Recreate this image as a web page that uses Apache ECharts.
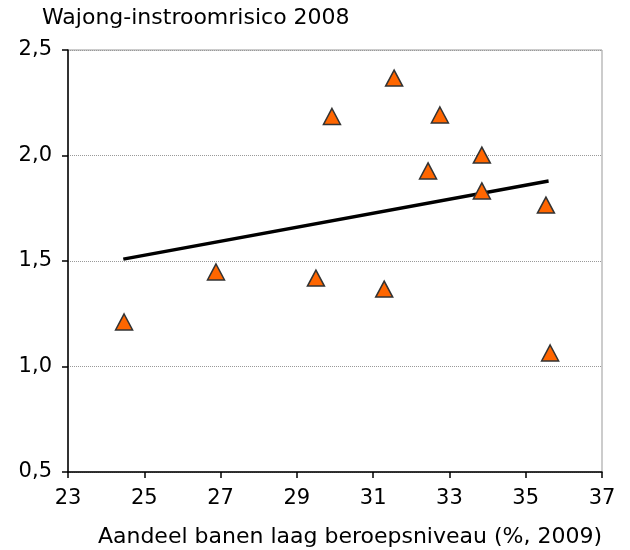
<!DOCTYPE html>
<html>
<head>
<meta charset="utf-8">
<script src="https://cdn.jsdelivr.net/npm/echarts@6/dist/echarts.min.js"></script>
<style>html,body{margin:0;padding:0;background:#fff}#c{width:630px;height:550px}</style>
</head>
<body>
<div id="c"></div>
<script>
var titleText = 'Wajong-instroomrisico 2008';
var xAxisTitle = 'Aandeel banen laag beroepsniveau (%, 2009)';
var xValues = [24.47, 26.88, 29.50, 29.92, 31.29, 31.55, 32.44, 32.75, 33.85, 33.85, 35.53, 35.64];
var yValues = [1.211, 1.448, 1.419, 2.185, 1.367, 2.367, 1.927, 2.192, 2.002, 1.832, 1.765, 1.064];
var trendX = [24.45, 35.60];
var trendY = [1.509, 1.879];
var xTicks = [23, 25, 27, 29, 31, 33, 35, 37];
var yTicks = [0.5, 1.0, 1.5, 2.0, 2.5];

var font = 'DejaVu Sans';
var chart = echarts.init(document.getElementById('c'), null, {renderer: 'canvas'});
chart.setOption({
  animation: false,
  backgroundColor: '#fff',
  title: [
    {text: titleText, left: 37, top: 2, textStyle: {fontFamily: font, fontSize: 22, fontWeight: 'normal', color: '#000'}},
    {text: xAxisTitle, right: 23, top: 521, textStyle: {fontFamily: font, fontSize: 22, fontWeight: 'normal', color: '#000'}}
  ],
  grid: {left: 68, right: 28, top: 50, bottom: 78, show: true, borderColor: '#999', borderWidth: 1},
  xAxis: {
    type: 'value', min: xTicks[0], max: xTicks[xTicks.length - 1], interval: 2,
    axisLine: {show: true, onZero: false, lineStyle: {color: '#000', width: 1.5}},
    axisTick: {show: true, inside: false, length: 6, lineStyle: {color: '#000', width: 1.5}},
    axisLabel: {margin: 16, fontFamily: font, fontSize: 21, color: '#000',
      formatter: function (v) { return String(v); }},
    splitLine: {show: false}
  },
  yAxis: {
    type: 'value', min: yTicks[0], max: yTicks[yTicks.length - 1], interval: 0.5,
    axisLine: {show: true, onZero: false, lineStyle: {color: '#000', width: 1.5}},
    axisTick: {show: true, inside: false, length: 6, lineStyle: {color: '#000', width: 1.5}},
    axisLabel: {margin: 16, fontFamily: font, fontSize: 21, color: '#000',
      formatter: function (v) { return v.toFixed(1).replace('.', ','); }},
    splitLine: {show: true, lineStyle: {color: '#999', type: 'dotted', width: 1}}
  },
  series: [
    {
      type: 'line',
      data: trendX.map(function (x, i) { return [x, trendY[i]]; }),
      symbol: 'none',
      lineStyle: {color: '#000', width: 3.5},
      z: 2
    },
    {
      type: 'scatter',
      data: xValues.map(function (x, i) { return [x, yValues[i]]; }),
      symbol: 'triangle',
      symbolSize: [17, 16],
      itemStyle: {color: '#FF6600', borderColor: '#333', borderWidth: 1.5, opacity: 1},
      z: 3
    }
  ]
});
</script>
</body>
</html>
